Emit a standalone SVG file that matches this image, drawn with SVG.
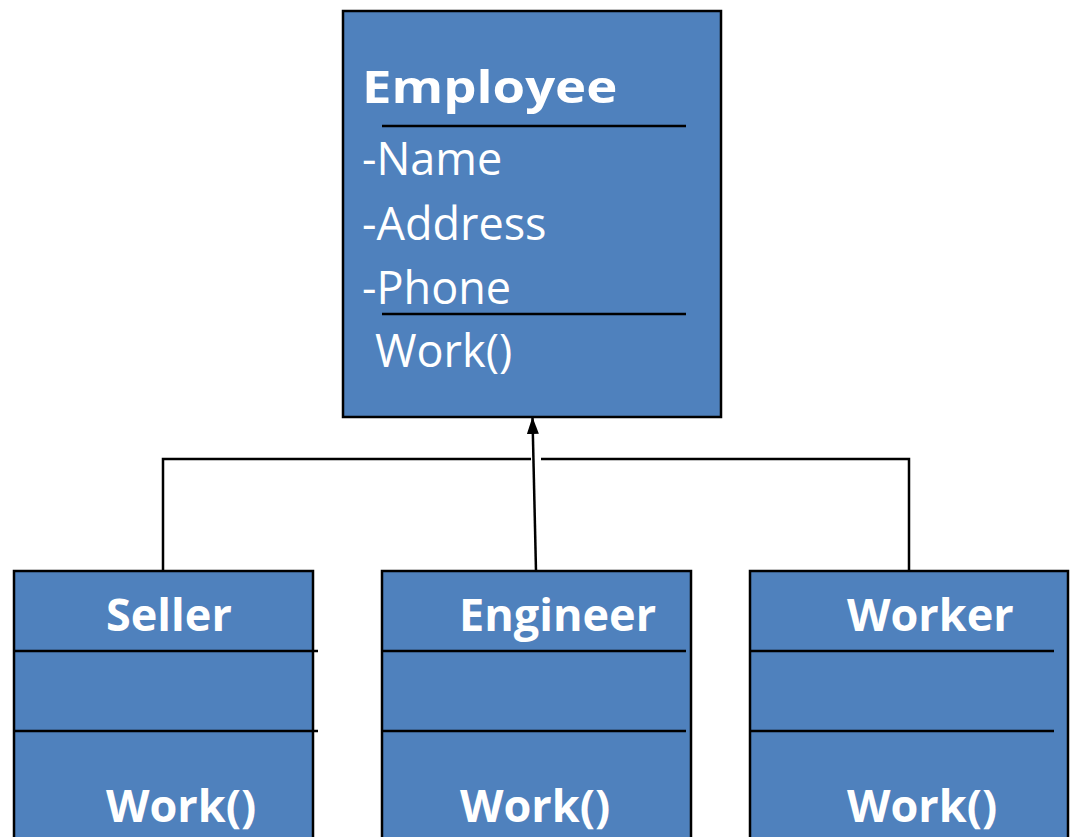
<svg xmlns="http://www.w3.org/2000/svg" width="1070" height="837" viewBox="0 0 1070 837">
<style>
.box{fill:#4F81BD;stroke:#000;stroke-width:2.5}
.sep{stroke:#000;stroke-width:2.5;fill:none}
.conn{stroke:#000;stroke-width:2.5;fill:none}
.t{font-family:"Open Sans","Liberation Sans",sans-serif;font-size:45px;fill:#fff}
.b{font-weight:bold}
</style>
<defs>
<marker id="arr" markerUnits="userSpaceOnUse" markerWidth="17" markerHeight="12" refX="16" refY="6" viewBox="0 0 17 12" orient="auto">
<path d="M0,0 L17,6 L0,12 Z" fill="#000"/>
</marker>
</defs>
<rect width="1070" height="837" fill="#fff"/>
<g id="employee">
<rect class="box" x="343" y="11" width="378" height="406"/>
<text class="t b" transform="translate(362,103) scale(1.17,1)" x="0" y="0" font-size="51">Employee</text>
<line class="sep" x1="382" y1="126" x2="686" y2="126"/>
<text class="t" x="362" y="175">-Name</text>
<text class="t" x="362" y="240">-Address</text>
<text class="t" x="362" y="304">-Phone</text>
<line class="sep" x1="382" y1="314" x2="686" y2="314"/>
<text class="t" x="375" y="367">Work()</text>
</g>
<g id="seller">
<rect class="box" x="14" y="571" width="299" height="290"/>
<line class="sep" x1="14" y1="651" x2="318" y2="651"/>
<line class="sep" x1="14" y1="731" x2="318" y2="731"/>
<text class="t b" x="106" y="631">Seller</text>
<text class="t b" x="106" y="822">Work()</text>
</g>
<g id="engineer">
<rect class="box" x="382" y="571" width="309" height="290"/>
<line class="sep" x1="382" y1="651" x2="686" y2="651"/>
<line class="sep" x1="382" y1="731" x2="686" y2="731"/>
<text class="t b" x="459" y="631">Engineer</text>
<text class="t b" x="460" y="822">Work()</text>
</g>
<g id="worker">
<rect class="box" x="750" y="571" width="318" height="290"/>
<line class="sep" x1="750" y1="651" x2="1054" y2="651"/>
<line class="sep" x1="750" y1="731" x2="1054" y2="731"/>
<text class="t b" x="847" y="631">Worker</text>
<text class="t b" x="847" y="822">Work()</text>
</g>
<g id="connectors">
<polyline class="conn" points="163,571 163,459 531,459"/>
<polyline class="conn" points="541,459 909,459 909,571"/>
<line class="conn" x1="536" y1="571" x2="532.5" y2="418" marker-end="url(#arr)"/>
</g>
</svg>
